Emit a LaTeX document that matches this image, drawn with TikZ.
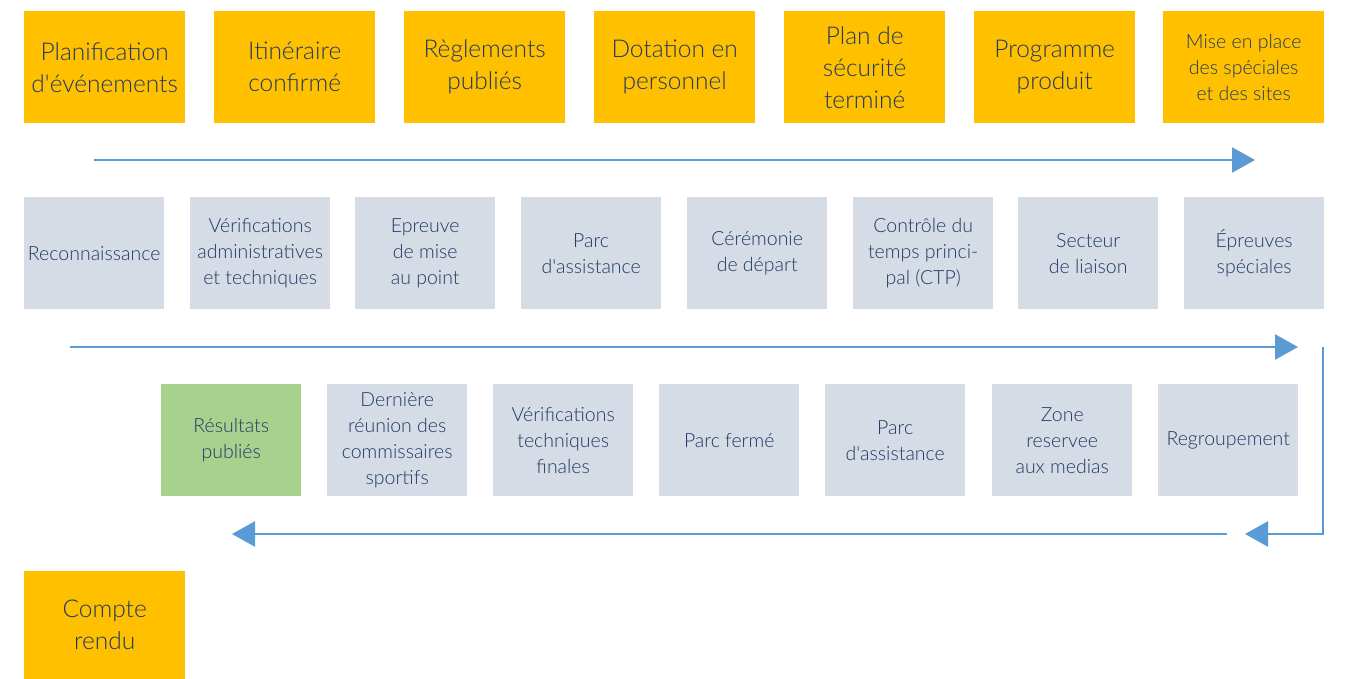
\documentclass[tikz,border=0pt]{standalone}
\usepackage{fontspec}
\setmainfont{Lato Light}
\usetikzlibrary{arrows.meta}
\definecolor{orangeb}{HTML}{FFC000}
\definecolor{grayb}{HTML}{D6DCE5}
\definecolor{greenb}{HTML}{A9D18E}
\definecolor{arrowc}{HTML}{5B9BD5}
\definecolor{txt}{HTML}{1F3864}
\newcommand{\q}{\textquotesingle}
\tikzset{
  topbox/.style={fill=orangeb, anchor=north west, minimum width=161pt, minimum height=112pt, inner sep=0pt, align=center, text=txt, font=\fontsize{24.5}{32}\selectfont},
  smallbox/.style={fill=grayb, anchor=north west, minimum width=140pt, minimum height=112pt, inner sep=0pt, align=center, text=txt, font=\fontsize{19.5}{26}\selectfont},
  greenbox/.style={smallbox, fill=greenb},
  flow/.style={draw=arrowc, line width=2.6pt, -{Triangle[length=23pt,width=25pt]}},
  flowline/.style={draw=arrowc, line width=2.6pt}
}
\begin{document}
\begin{tikzpicture}[x=1pt,y=-1pt]
\useasboundingbox (0,0) rectangle (1350,679);
% top row
\node[topbox] (t1) at (24,11) {Planification\\d\q événements};
\node[topbox] (t2) at (214,11) {Itinéraire\\confirmé};
\node[topbox] (t3) at (404,11) {Règlements\\publiés};
\node[topbox] (t4) at (594,11) {Dotation en\\personnel};
\node[topbox] (t5) at (784,11) {Plan de\\sécurité\\terminé};
\node[topbox] (t6) at (974,11) {Programme\\produit};
\node[topbox, font=\fontsize{19.5}{26}\selectfont] (t7) at (1163,11) {Mise en place\\des spéciales\\et des sites};
% arrow 1
\coordinate (a1s) at (94,160);
\coordinate (a1e) at (1255,160);
\draw[flow] (a1s) -- (a1e);
% row 2
\node[smallbox] (m1) at (24,197) {Reconnaissance};
\node[smallbox] (m2) at (190,197) {Vérifications\\administratives\\et techniques};
\node[smallbox] (m3) at (355,197) {Epreuve\\de mise\\au point};
\node[smallbox] (m4) at (521,197) {Parc\\d\q assistance};
\node[smallbox] (m5) at (687,197) {Cérémonie\\de départ};
\node[smallbox] (m6) at (853,197) {Contrôle du\\temps princi-\\pal (CTP)};
\node[smallbox] (m7) at (1018,197) {Secteur\\de liaison};
\node[smallbox] (m8) at (1184,197) {Épreuves\\spéciales};
% arrow 2
\coordinate (a2s) at (70,347);
\coordinate (a2e) at (1298,347);
\draw[flow] (a2s) -- (a2e);
% row 3
\node[greenbox] (b1) at (161,384) {Résultats\\publiés};
\node[smallbox] (b2) at (327,384) {Dernière\\réunion des\\commissaires\\sportifs};
\node[smallbox] (b3) at (493,384) {Vérifications\\techniques\\finales};
\node[smallbox] (b4) at (659,384) {Parc fermé};
\node[smallbox] (b5) at (825,384) {Parc\\d\q assistance};
\node[smallbox] (b6) at (992,384) {Zone\\reservee\\aux medias};
\node[smallbox] (b7) at (1158,384) {Regroupement};
% return connector
\coordinate (r1) at (1323,347);
\coordinate (r2) at (1323,534);
\coordinate (r3) at (1245,534);
\draw[flow] (r1) -- (r2) -- (r3);
% arrow 3
\coordinate (a3s) at (1227,534);
\coordinate (a3e) at (232,534);
\draw[flow] (a3s) -- (a3e);
% last box
\node[topbox, minimum height=108pt] (c1) at (24,571) {Compte\\rendu};
\end{tikzpicture}
\end{document}
